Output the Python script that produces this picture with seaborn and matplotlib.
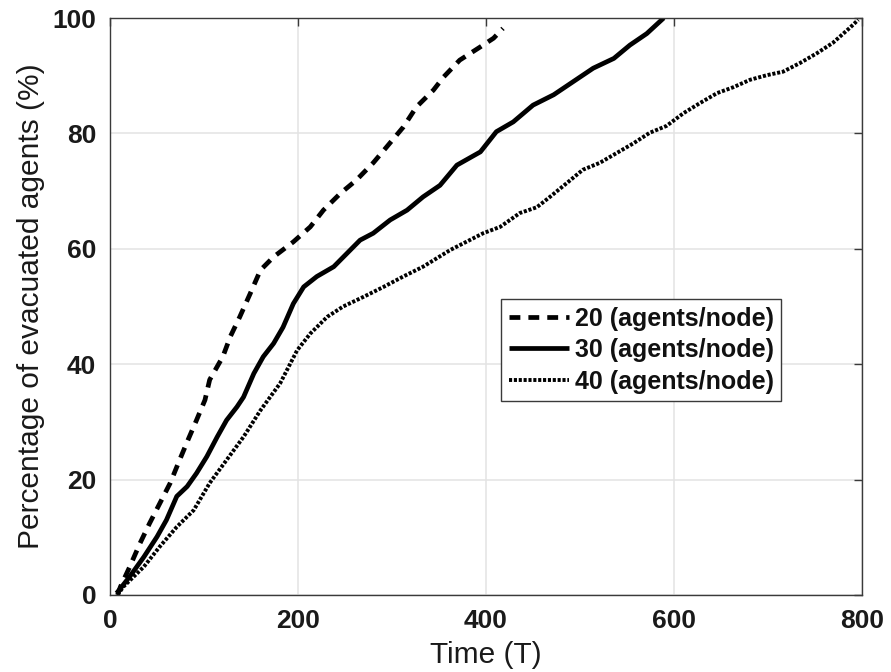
import numpy as np
import pandas as pd
import matplotlib
matplotlib.use("Agg")
import matplotlib.pyplot as plt
import seaborn as sns

# ---- data ----
t20 = [8, 11, 21, 32, 42, 53, 64, 74, 83, 92, 101, 106, 120, 128, 138, 149, 160, 174,
       195, 213, 227, 245, 262, 280, 294, 312, 326, 344, 355, 372, 394, 408, 418]
p20 = [0, 1.4, 4.9, 9, 12.4, 15.9, 19.4, 23.4, 26.9, 30.3, 33.8, 37.3, 41.3, 44.8,
       48.2, 52.2, 56.3, 58.6, 61.2, 63.8, 66.7, 69.6, 71.9, 74.9, 77.6, 81.1, 84.6,
       87.5, 89.8, 92.7, 95, 96.5, 98.2]

t30 = [7, 21, 36, 50, 60, 71, 82, 92, 103, 114, 124, 135, 142, 153, 163, 174, 184,
       195, 206, 220, 238, 252, 266, 280, 298, 316, 333, 351, 369, 394, 411, 429, 450,
       472, 493, 514, 536, 553, 571, 589]
p30 = [0.3, 3.2, 6.6, 10.1, 13, 17.1, 18.8, 21.1, 24, 27.4, 30.3, 32.6, 34.3, 38.4,
       41.3, 43.6, 46.4, 50.5, 53.4, 55.2, 56.9, 59.2, 61.5, 62.7, 65, 66.7, 69, 71,
       74.5, 76.8, 80.3, 82, 84.9, 86.7, 89, 91.3, 93, 95.3, 97.3, 100]

t40 = [8, 14, 36, 53, 71, 89, 106, 124, 142, 160, 181, 199, 213, 231, 248, 270, 291,
       312, 333, 362, 397, 415, 436, 454, 468, 486, 503, 521, 539, 557, 574, 592, 610,
       628, 646, 663, 681, 699, 716, 734, 752, 769, 787, 796]
p40 = [0, 1.4, 4.9, 8.4, 11.8, 14.7, 19.4, 23.4, 27.4, 32, 36.7, 42.4, 45.3, 48.2,
       50, 51.7, 53.4, 55.2, 56.9, 59.8, 62.7, 63.8, 66.2, 67.2, 69, 71.4, 73.7, 74.9,
       76.6, 78.3, 80.1, 81.3, 83.5, 85.3, 87, 88, 89.3, 90.1, 90.7, 92.2, 93.9, 95.7,
       98.3, 99.7]

labels = ["20 (agents/node)", "30 (agents/node)", "40 (agents/node)"]
xticks = [0, 200, 400, 600, 800]
yticks = [0, 20, 40, 60, 80, 100]

sns.set_style("whitegrid")
plt.rcParams["font.family"] = ["Liberation Sans", "DejaVu Sans"]

fig = plt.figure(figsize=(8.91, 6.72), dpi=100)
ax = fig.add_axes([0.1235, 0.1146, 0.844, 0.8586])

styles = [
    dict(lw=3.4, dashes=(2.3, 1.7)),
    dict(lw=3.4, dashes=None),
    dict(lw=2.8, dashes=(0.8, 0.45)),
]
series = [(t20, p20), (t30, p30), (t40, p40)]
for (t, p), lab, st in zip(series, labels, styles):
    df = pd.DataFrame({"Time": t, "Pct": p})
    sns.lineplot(data=df, x="Time", y="Pct", ax=ax, sort=False, estimator=None,
                 color="black", linewidth=st["lw"], label=lab)
    ln = ax.lines[-1]
    if st["dashes"] is not None:
        ln.set_dashes(st["dashes"])
    ln.set_solid_capstyle("butt")
    ln.set_dash_capstyle("butt")

ax.set_xlim(0, 800)
ax.set_ylim(0, 100)
ax.set_xticks(xticks)
ax.set_yticks(yticks)
ax.grid(True, color="#e3e3e3", linewidth=1.1)
for s in ax.spines.values():
    s.set_color("#3a3a3a")
    s.set_linewidth(1.0)
    s.set_visible(True)
ax.tick_params(axis="both", which="both", direction="in", length=6, width=1.0,
               color="#3a3a3a", top=True, right=True, labelsize=19, pad=10,
               labelcolor="#1a1a1a")
for lbl in ax.get_xticklabels() + ax.get_yticklabels():
    lbl.set_fontweight("bold")

ax.set_xlabel("Time (T)", fontsize=21.5, color="#1a1a1a", labelpad=6)
ax.set_ylabel("Percentage of evacuated agents (%)", fontsize=21.5, color="#1a1a1a",
              labelpad=5)

leg = ax.legend(loc="upper left", bbox_to_anchor=(0.5623, 0.555),
                bbox_transform=fig.transFigure, fontsize=18, frameon=True,
                fancybox=False, framealpha=1, edgecolor="#3a3a3a",
                handlelength=2.4, handletextpad=0.25, labelspacing=0.3,
                borderpad=0.3, borderaxespad=0)
leg.get_frame().set_linewidth(1.0)
for txt in leg.get_texts():
    txt.set_fontweight("bold")
    txt.set_color("#111111")

fig.savefig("out.png", dpi=100, facecolor="white")
